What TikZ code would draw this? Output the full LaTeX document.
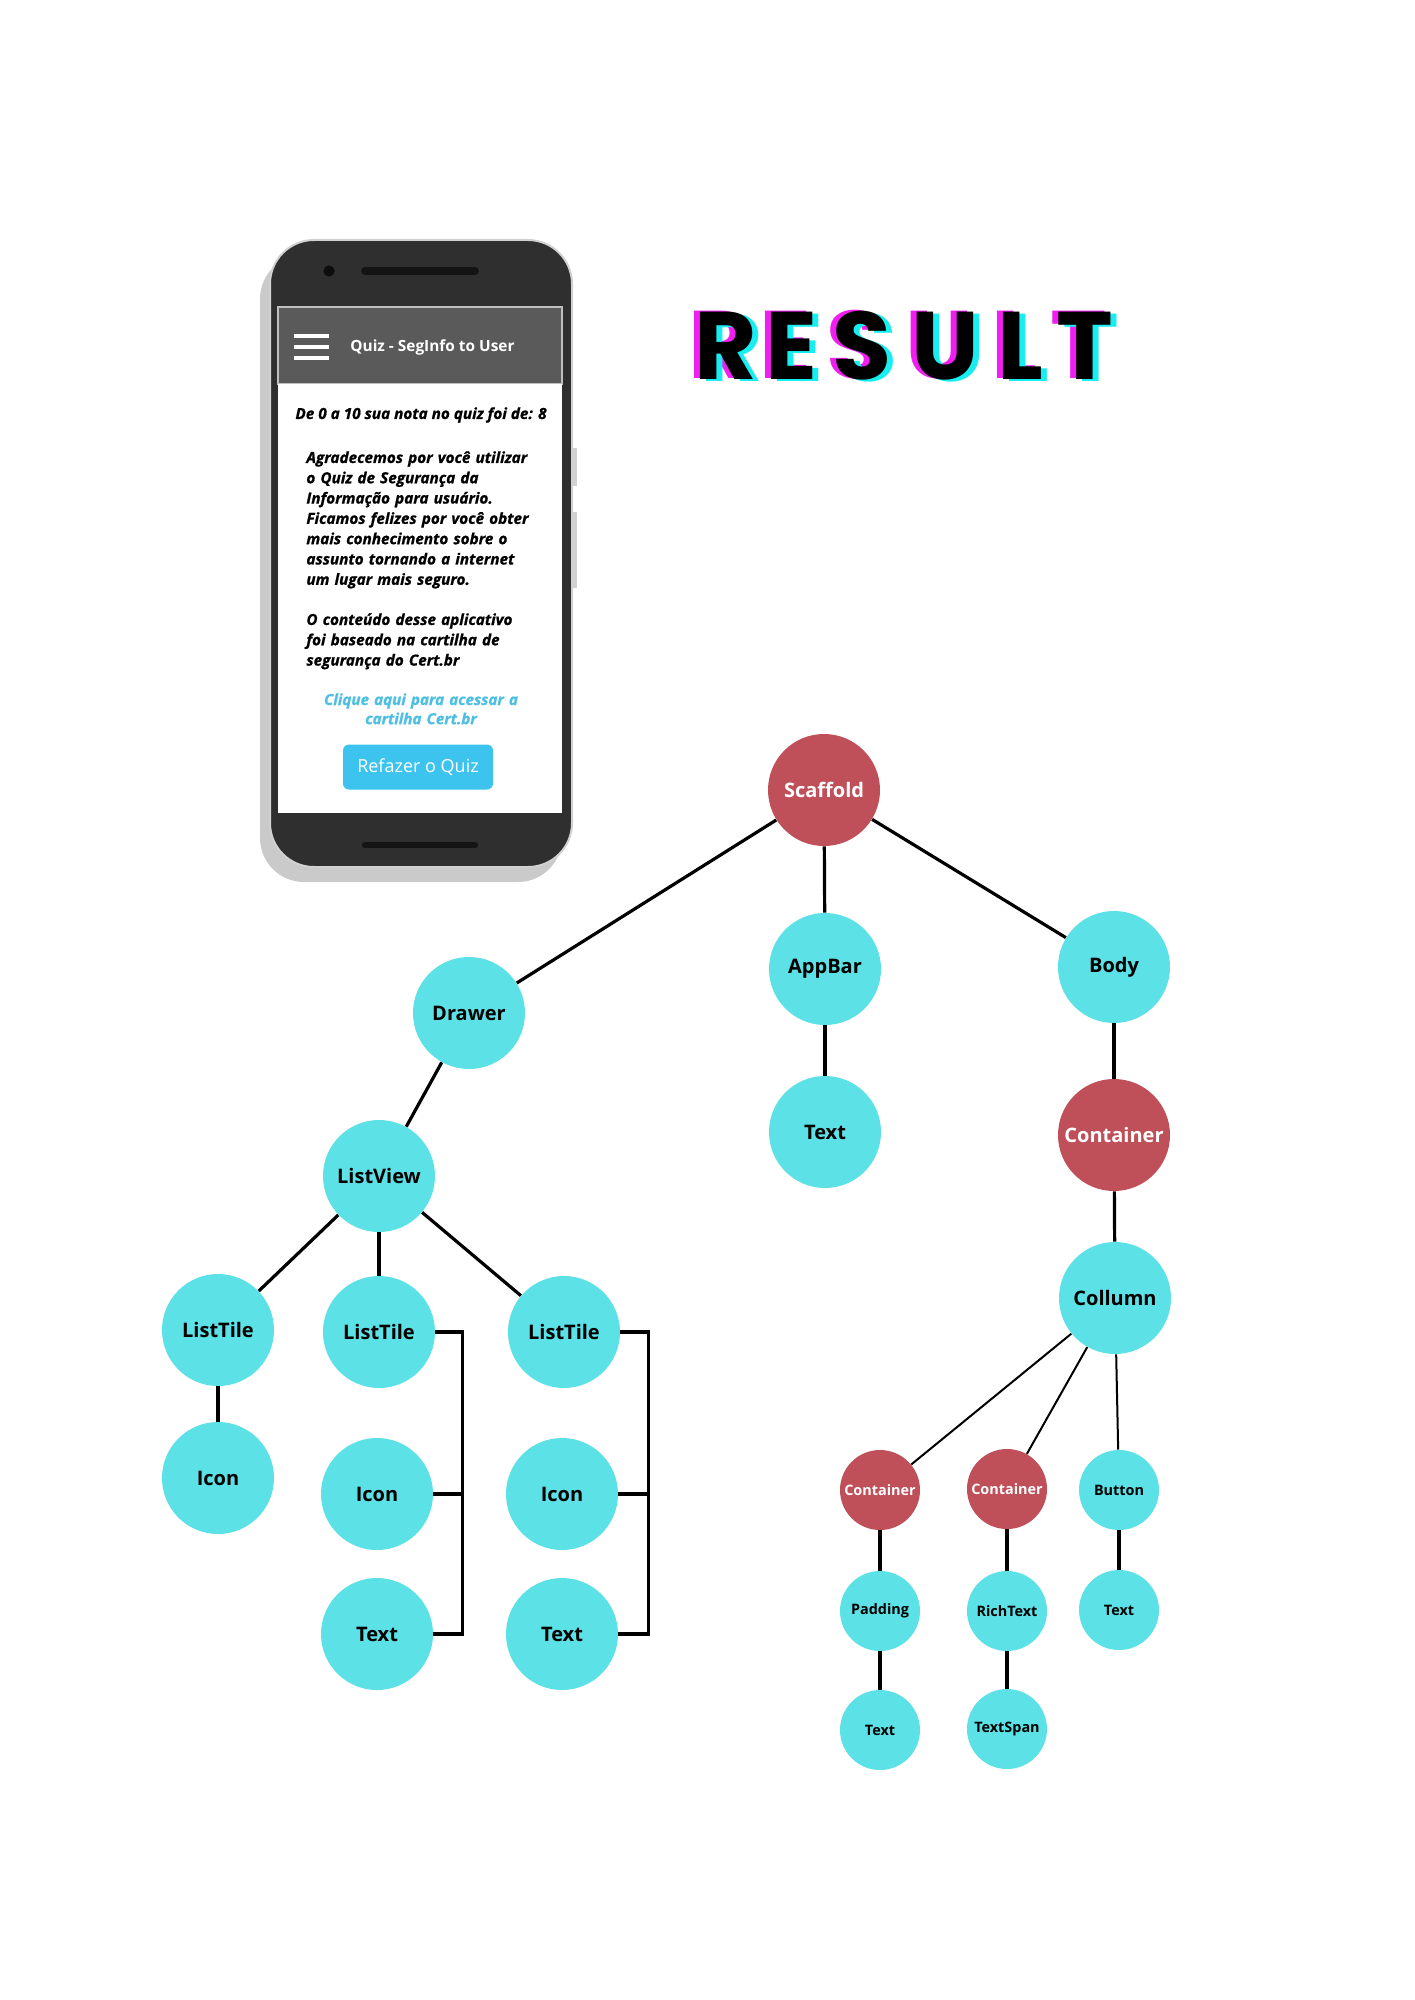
\documentclass[tikz,border=0pt]{standalone}
\usepackage{fontspec}
\setmainfont{Open Sans}
\newfontfamily\titlefont{Poppins}
\newfontfamily\screenfont[FakeBold=1]{Open Sans}
\usepackage{xcolor}
\usepackage{tikz}
\usetikzlibrary{positioning,calc}

\definecolor{nodecyan}{HTML}{5CE1E6}
\definecolor{nodered}{HTML}{BF4F58}
\definecolor{phonedark}{HTML}{2F2F2F}
\definecolor{phoneshadow}{HTML}{CACACA}
\definecolor{appbar}{HTML}{5A5A5A}
\definecolor{btnblue}{HTML}{3DC4EE}
\definecolor{linkblue}{HTML}{4DBFE2}
\definecolor{glitchmag}{HTML}{F01EF0}
\definecolor{glitchcya}{HTML}{18EEF0}

\tikzset{
    widget/.style={circle, fill=nodecyan, minimum size=56pt, inner sep=0pt, text=black,
        font=\bfseries\fontsize{10}{12}\selectfont},
    redwidget/.style={widget, fill=nodered, text=white},
    smallwidget/.style={widget, minimum size=40pt, font=\bfseries\fontsize{7.2}{9}\selectfont},
    smallred/.style={smallwidget, fill=nodered, text=white},
    link/.style={line width=1.6pt, black},
    thinlink/.style={line width=1pt, black},
    phonetext/.style={inner sep=0pt, font=\screenfont\bfseries\itshape\fontsize{7.65}{10.15}\selectfont},
}

\begin{document}
\begin{tikzpicture}[x=0.5pt, y=-0.5pt]
    \fill[white] (0,0) rectangle (1414,2000);
    \useasboundingbox (0,0) rectangle (1414,2000);

    % phone
    \fill[phoneshadow, rounded corners=22pt] (260,255) rectangle (562,882);
    \fill[black!18] (570,448) rectangle (577,486);
    \fill[black!18] (570,512) rectangle (577,588);
    \filldraw[fill=phonedark, draw=black!18, line width=1pt, rounded corners=22pt] (270,240) rectangle (572,867);
    \fill[black!95] (329,271) circle (2.8pt);
    \draw[line width=3.8pt, line cap=round, black!92] (365,271) -- (475,271);
    \draw[line width=3.2pt, line cap=round, black!92] (365,845) -- (475,845);
    \filldraw[fill=appbar, draw=black!25, line width=0.7pt] (278,307) rectangle (562,384);
    \fill[white] (278,384) rectangle (562,813);
    \foreach \hy in {336,347,358}
        \draw[white, line width=2pt] (294,\hy) -- (329,\hy);
    \node[anchor=base west, inner sep=0pt, text=white, font=\bfseries\fontsize{7.7}{9}\selectfont] (apptitle) at (350,352) {Quiz - SegInfo to User};
    \node[phonetext, anchor=base] (score) at (421,419) {De 0 a 10 sua nota no quiz foi de: 8};
    \node[phonetext, anchor=base west, text width=140pt, align=left] (thanks) at (306,463)
        {Agradecemos por você utilizar\\o Quiz de Segurança da\\Informação para usuário.\\Ficamos felizes por você obter\\mais conhecimento sobre o\\assunto tornando a internet\\um lugar mais seguro.};
    \node[phonetext, anchor=base west, text width=140pt, align=left] (source) at (306,625)
        {O conteúdo desse aplicativo\\foi baseado na cartilha de\\segurança do Cert.br};
    \node[phonetext, anchor=base, text=linkblue, text width=150pt, align=center, font=\screenfont\bfseries\itshape\fontsize{7.6}{9.6}\selectfont] (certlink) at (421,705)
        {Clique aqui para acessar a\\cartilha Cert.br};
    \node[fill=btnblue, rounded corners=3pt, minimum width=75pt, minimum height=22.5pt, inner sep=0pt,
        text=white, font=\fontsize{9}{10}\selectfont] (retry) at (418,767) {Refazer o Quiz};

    % title
    \foreach \ch/\cx in {R/726, E/791, S/862, U/945, L/1020, T/1085} {
        \node[anchor=base, inner sep=0pt, text=glitchmag, font=\titlefont\bfseries\fontsize{48}{50}\selectfont] (mag\ch) at (\cx-6,379) {\ch};
        \node[anchor=base, inner sep=0pt, text=glitchcya, font=\titlefont\bfseries\fontsize{48}{50}\selectfont] (cya\ch) at (\cx+6,382) {\ch};
        \node[anchor=base, inner sep=0pt, text=black, font=\titlefont\bfseries\fontsize{48}{50}\selectfont] (res\ch) at (\cx,380) {\ch};
    }

    % widget tree
    \node[redwidget] (scaffold) at (824,790) {Scaffold};
    \node[widget] (drawer) at (469,1013) {Drawer};
    \node[widget] (appbar) at (825,969) {AppBar};
    \node[widget] (body) at (1114,967) {Body};
    \node[widget] (appbartext) at (825,1132) {Text};
    \node[redwidget] (container) at (1114,1135) {Container};
    \node[widget] (collumn) at (1115,1298) {Collumn};
    \node[widget] (listview) at (379,1176) {ListView};
    \node[widget] (tileA) at (218,1330) {ListTile};
    \node[widget] (tileB) at (379,1332) {ListTile};
    \node[widget] (tileC) at (564,1332) {ListTile};
    \node[widget] (iconA) at (218,1478) {Icon};
    \node[widget] (iconB) at (377,1494) {Icon};
    \node[widget] (iconC) at (562,1494) {Icon};
    \node[widget] (textB) at (377,1634) {Text};
    \node[widget] (textC) at (562,1634) {Text};
    \node[smallred] (boxA) at (880,1490) {Container};
    \node[smallred] (boxB) at (1007,1489) {Container};
    \node[smallwidget] (button) at (1119,1490) {Button};
    \node[smallwidget] (padding) at (880,1611) {Padding};
    \node[smallwidget] (richtext) at (1007,1611) {RichText};
    \node[smallwidget] (buttontext) at (1119,1610) {Text};
    \node[smallwidget] (paddingtext) at (880,1730) {Text};
    \node[smallwidget] (textspan) at (1007,1729) {TextSpan};

    \draw[link] (scaffold) -- (drawer);
    \draw[link] (scaffold) -- (appbar);
    \draw[link] (scaffold) -- (body);
    \draw[link] (appbar) -- (appbartext);
    \draw[link] (body) -- (container);
    \draw[link] (container) -- (collumn);
    \draw[link] (drawer) -- (listview);
    \draw[link] (listview) -- (tileA);
    \draw[link] (listview) -- (tileB);
    \draw[link] (listview) -- (tileC);
    \draw[link] (tileA) -- (iconA);

    \coordinate (brkB) at ($(tileB.east)+(27,0)$);
    \coordinate (brkC) at ($(tileC.east)+(28,0)$);
    \draw[link] (tileB.east) -- (brkB) |- (textB.east);
    \draw[link] (iconB.east) -- (iconB.east -| brkB);
    \draw[link] (tileC.east) -- (brkC) |- (textC.east);
    \draw[link] (iconC.east) -- (iconC.east -| brkC);

    \draw[thinlink] (collumn) -- (boxA);
    \draw[thinlink] (collumn) -- (boxB);
    \draw[thinlink] (collumn) -- (button);
    \draw[link] (boxA) -- (padding);
    \draw[link] (padding) -- (paddingtext);
    \draw[link] (boxB) -- (richtext);
    \draw[link] (richtext) -- (textspan);
    \draw[link] (button) -- (buttontext);
\end{tikzpicture}
\end{document}
